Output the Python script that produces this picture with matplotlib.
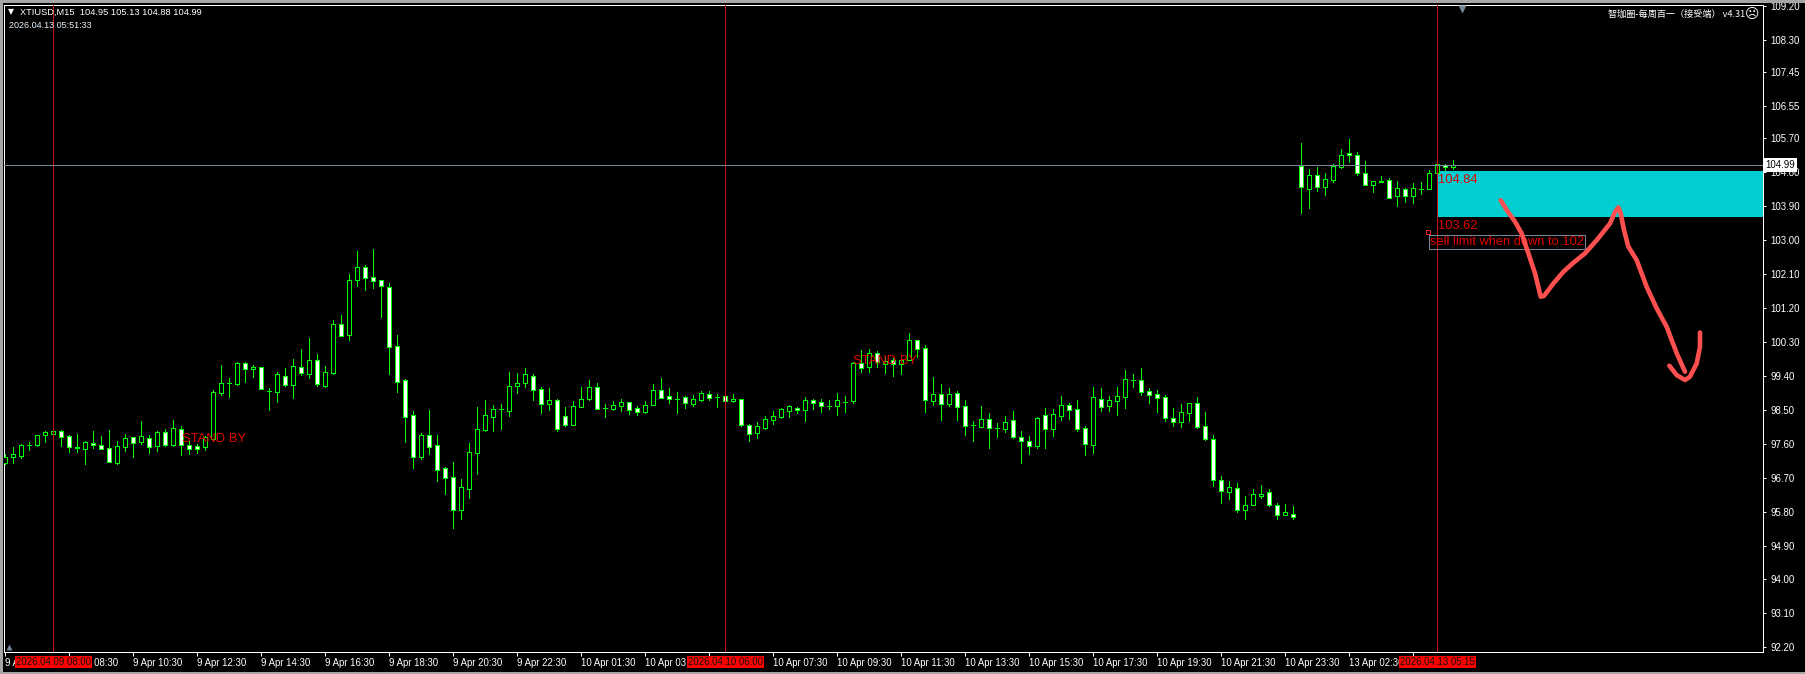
import matplotlib
matplotlib.use("Agg")
import matplotlib.pyplot as plt
from matplotlib.patches import Rectangle

W, H = 1806, 674

opens = [97.10,97.26,97.28,97.57,97.57,97.82,97.87,97.93,97.81,97.52,
 97.47,97.61,97.58,97.50,97.10,97.52,97.77,97.65,97.74,97.55,
 97.90,97.57,97.98,97.56,97.53,97.52,97.72,98.94,99.20,99.19,
 99.73,99.57,99.63,98.99,98.96,99.41,99.15,99.63,99.46,99.81,
 99.14,99.48,100.77,100.49,101.95,102.28,102.01,101.93,101.77,100.18,
 99.28,98.35,97.26,97.82,97.56,96.95,96.71,95.85,96.41,97.36,
 97.97,98.32,98.51,98.48,99.14,99.22,99.41,99.04,98.66,98.75,
 98.33,98.11,98.58,98.80,99.10,98.55,98.53,98.61,98.72,98.54,
 98.45,98.64,99.02,98.86,98.79,98.83,98.66,98.76,98.91,98.84,
 98.86,98.74,98.80,98.09,97.89,98.03,98.24,98.32,98.48,98.56,
 98.50,98.75,98.70,98.61,98.61,98.72,98.73,99.73,99.64,100.00,
 99.71,99.82,99.71,99.81,100.34,100.13,98.74,98.91,98.66,98.94,
 98.59,98.09,98.05,98.25,98.01,98.00,98.22,97.77,97.66,97.55,
 98.35,98.00,98.34,98.62,98.51,98.03,97.57,98.80,98.60,98.74,
 98.85,99.29,99.28,98.99,98.91,98.83,98.27,98.18,98.42,98.67,
 98.06,97.72,96.63,96.33,96.42,95.85,95.97,96.22,96.31,95.97,
 95.72,95.75,104.96,104.36,104.74,104.42,104.60,104.95,105.30,105.27,
 104.77,104.45,104.57,104.59,104.16,104.35,104.16,104.36,104.35,104.77,
 104.98,104.95]
highs = [97.33,97.51,97.59,97.64,97.84,97.94,97.95,97.96,97.82,97.86,
 97.67,97.94,97.80,97.96,97.67,97.86,97.78,98.20,97.83,97.94,
 97.99,98.23,98.07,97.67,97.59,97.80,99.02,99.69,99.34,99.78,
 99.78,99.70,99.63,99.07,99.49,99.61,99.85,100.11,100.40,99.98,
 99.66,100.88,101.01,102.10,102.71,102.34,102.76,101.94,101.86,100.48,
 99.32,98.47,97.88,98.49,97.83,96.98,97.12,96.67,97.62,98.57,
 98.76,98.63,98.65,99.50,99.48,99.61,99.45,99.10,99.08,98.79,
 98.57,98.73,99.10,99.29,99.21,98.65,98.73,98.79,98.72,98.60,
 98.73,99.18,99.34,99.08,98.97,98.87,98.89,99.00,99.00,98.92,
 98.87,98.92,98.80,98.12,98.18,98.33,98.47,98.55,98.63,98.57,
 98.84,98.78,98.78,98.76,98.94,98.86,99.77,100.08,100.11,100.06,
 99.94,99.87,99.95,100.54,100.35,100.22,99.37,99.18,99.08,99.00,
 98.76,98.20,98.60,98.41,98.15,98.33,98.47,97.94,97.80,98.31,
 98.55,98.52,98.86,98.67,98.76,98.07,99.10,99.08,98.86,99.10,
 99.55,99.45,99.61,99.07,99.02,98.89,98.55,98.65,98.67,98.84,
 98.44,97.83,96.74,96.61,96.56,96.21,96.40,96.51,96.40,96.03,
 96.00,95.95,105.58,104.88,104.93,104.78,105.01,105.42,105.68,105.33,
 105.10,104.56,104.70,104.64,104.57,104.38,104.51,104.53,104.86,105.02,
 105.01,105.13]
lows = [97.06,97.09,97.22,97.43,97.54,97.64,97.87,97.54,97.38,97.38,
 97.06,97.49,97.47,97.12,97.06,97.41,97.25,97.59,97.35,97.41,
 97.54,97.54,97.30,97.33,97.35,97.43,97.67,98.90,98.85,99.17,
 99.25,99.38,99.04,98.49,98.71,99.14,98.82,99.42,99.34,99.13,
 99.10,99.45,100.47,100.35,101.78,101.68,101.73,100.96,99.45,98.97,
 97.65,96.96,97.20,97.33,96.61,96.27,95.37,95.60,96.16,96.80,
 97.94,97.94,97.99,98.34,98.95,99.10,98.76,98.42,98.49,97.94,
 98.07,98.11,98.58,98.76,98.53,98.31,98.49,98.47,98.39,98.36,
 98.42,98.64,98.82,98.68,98.42,98.55,98.60,98.73,98.76,98.57,
 98.73,98.71,98.07,97.67,97.75,97.99,98.12,98.28,98.31,98.41,
 98.20,98.52,98.44,98.52,98.36,98.44,98.68,99.50,99.50,99.64,
 99.47,99.40,99.45,99.81,99.89,98.44,98.63,98.23,98.60,98.23,
 97.83,97.67,98.05,97.49,97.78,97.91,97.75,97.09,97.33,97.49,
 97.49,97.80,98.23,98.25,97.94,97.30,97.35,98.47,98.47,98.36,
 98.55,99.10,98.89,98.68,98.44,98.20,98.07,98.04,98.20,98.02,
 97.70,96.48,96.03,96.13,95.79,95.60,95.97,96.16,95.95,95.60,
 95.72,95.60,103.72,103.85,104.30,104.20,104.54,104.91,105.07,104.73,
 104.45,104.28,104.54,104.11,103.90,104.01,103.98,104.22,104.35,104.74,
 104.86,104.88]
closes = [97.26,97.32,97.56,97.57,97.82,97.90,97.93,97.79,97.52,97.48,
 97.64,97.58,97.47,97.12,97.53,97.74,97.63,97.80,97.52,97.90,
 97.57,98.01,97.57,97.47,97.47,97.77,98.96,99.20,99.20,99.73,
 99.57,99.64,99.04,98.99,99.44,99.17,99.65,99.47,99.81,99.19,
 99.51,100.77,100.47,101.93,102.30,102.00,101.92,101.79,100.17,99.25,
 98.32,97.26,97.82,97.52,96.91,96.70,95.85,96.44,97.37,97.98,
 98.35,98.51,98.51,99.12,99.20,99.44,99.03,98.66,98.75,98.00,
 98.11,98.59,98.80,99.10,98.53,98.55,98.62,98.72,98.50,98.45,
 98.62,99.02,98.82,98.80,98.79,98.69,98.78,98.94,98.82,98.84,
 98.74,98.80,98.11,97.87,98.06,98.25,98.33,98.51,98.59,98.50,
 98.75,98.69,98.61,98.61,98.75,98.72,99.74,99.62,100.00,99.76,
 99.80,99.71,99.82,100.34,100.12,98.75,98.91,98.66,98.91,98.58,
 98.08,98.09,98.25,98.03,98.01,98.19,97.79,97.68,97.55,98.27,
 98.00,98.38,98.64,98.50,98.00,97.60,98.83,98.58,98.75,98.86,
 99.31,99.29,98.98,98.90,98.82,98.29,98.18,98.43,98.67,98.05,
 97.73,96.65,96.35,96.44,95.85,95.97,96.26,96.28,95.97,95.72,
 95.78,95.67,104.40,104.74,104.40,104.61,104.96,105.27,105.27,104.77,
 104.45,104.56,104.54,104.13,104.37,104.16,104.37,104.35,104.77,105.01,
 104.95,104.99]

price_ticks = [109.20,108.30,107.45,106.55,105.70,104.80,103.90,103.00,102.10,101.20,
               100.30,99.40,98.50,97.60,96.70,95.80,94.90,94.00,93.10,92.20]
time_labels = ["9 Apr 06:30","9 Apr 08:30","9 Apr 10:30","9 Apr 12:30","9 Apr 14:30","9 Apr 16:30",
               "9 Apr 18:30","9 Apr 20:30","9 Apr 22:30","10 Apr 01:30","10 Apr 03:30","10 Apr 05:30",
               "10 Apr 07:30","10 Apr 09:30","10 Apr 11:30","10 Apr 13:30","10 Apr 15:30","10 Apr 17:30",
               "10 Apr 19:30","10 Apr 21:30","10 Apr 23:30","13 Apr 02:30","13 Apr 04:30"]
event_bars = [6, 90, 179]
event_labels = ["2026.04.09 08:00", "2026.04.10 06:00", "2026.04.13 05:15"]
zone_top, zone_bottom = 104.84, 103.62
bid = 104.99

stroke1_x = [186.92,187.67,188.71,189.54,190.38,191.21,191.92,192.33,193.50,194.75,196.00,197.46,
             198.92,200.58,201.21,201.62,201.92,202.33,202.87,203.92,205.17,206.42,207.67,208.92,209.96]
stroke1_y = [104.06,103.80,103.49,103.18,102.65,102.12,101.50,101.52,101.85,102.16,102.40,102.65,
             103.00,103.44,103.75,103.87,103.71,103.27,102.83,102.47,101.76,101.19,100.70,100.00,99.51]
stroke2_x = [208.00,208.92,209.96,210.58,211.42,211.83,211.83]
stroke2_y = [99.67,99.42,99.29,99.38,99.73,100.17,100.55]

FONT = "Liberation Sans"
GREEN = "#00ff00"
RED = "#e00000"
SLATE = "#778899"
LINE_1PX = 0.72
plt.rcParams["font.family"] = [FONT, "Noto Sans CJK SC", "DejaVu Sans"]

fig = plt.figure(figsize=(W / 100, H / 100), dpi=100, facecolor="black")

# window chrome, drawn first so the scale labels stay on top of it
for rect in ([0, H - 3, W, 3], [0, 0, 3, H], [0, 0, W, 2]):
    fig.patches.append(Rectangle((rect[0] / W, rect[1] / H), rect[2] / W, rect[3] / H,
                                 transform=fig.transFigure, fc="#a6a6a6", ec="none", figure=fig))

ax = fig.add_axes([4.5 / W, 1 - 651.5 / H, 1759 / W, 647 / H], facecolor="black")
ax.set_xlim(-0.104, 219.77)
ax.set_ylim(92.09, 109.25)

for s in ax.spines.values():
    s.set_color("white")
    s.set_linewidth(LINE_1PX)

# zone
ax.add_patch(Rectangle((event_bars[2], zone_bottom), 219.77 - event_bars[2], zone_top - zone_bottom,
                       fc="#00ced1", ec="none", zorder=1))

# candles
idx = list(range(len(opens)))
ax.vlines(idx, lows, highs, colors=GREEN, linewidth=LINE_1PX, antialiased=False, zorder=3)
bottoms = [min(o, c) for o, c in zip(opens, closes)]
heights = [abs(o - c) for o, c in zip(opens, closes)]
faces = ["black" if c > o else "white" for o, c in zip(opens, closes)]
ax.bar(idx, heights, bottom=bottoms, width=0.5, color=faces, edgecolor=GREEN, linewidth=LINE_1PX,
       antialiased=False, zorder=4)

# event lines / bid line
ax.vlines(event_bars, 92.09, 109.25, colors="#c80f0f", linewidth=LINE_1PX, antialiased=False, zorder=5)
ax.axhline(bid, color=SLATE, linewidth=LINE_1PX, antialiased=False, zorder=5)

# hand-drawn arrow
for xs, ys in ((stroke1_x, stroke1_y), (stroke2_x, stroke2_y)):
    ax.plot(xs, ys, color="#ff4f4f", linewidth=3.3, solid_capstyle="round",
            solid_joinstyle="round", zorder=7)

# ticks
ax.yaxis.tick_right()
ax.set_yticks(price_ticks)
ax.set_yticklabels([f"{p:.2f}" for p in price_ticks])
ax.tick_params(axis="y", length=2.4, width=LINE_1PX, color="white", labelcolor="white",
               labelsize=6.9, pad=2.5)
ax.set_xticks(list(range(0, 8 * len(time_labels), 8)))
ax.set_xticklabels(time_labels, ha="left")
ax.tick_params(axis="x", length=2.6, width=LINE_1PX, color="white", labelcolor="white",
               labelsize=6.9, pad=1.8)

xt = ax.get_xaxis_transform()
for b, lab in zip(event_bars, event_labels):
    ax.text(b, -0.0165, lab, transform=xt, ha="center", va="center", fontsize=6.9, color="#111111",
            clip_on=False, zorder=20,
            bbox=dict(boxstyle="square,pad=0.12", fc="#ff0000", ec="none"))

# bid tag
ax.text(220.0, bid, f"{bid:.2f}", ha="left", va="center", fontsize=6.9, color="black", clip_on=False,
        zorder=20, bbox=dict(boxstyle="square,pad=0.2", fc="white", ec="none"))

# on-chart text
ax.text(26.1, 97.72, "STAND BY", color=RED, fontsize=9.4, ha="center", va="center", zorder=8)
ax.text(110.0, 99.79, "STAND BY", color=RED, fontsize=9.4, ha="center", va="center", zorder=8)
ax.text(179.1, 104.60, f"{zone_top:.2f}", color=RED, fontsize=9.3, ha="left", va="center", zorder=8)
ax.text(179.1, 103.37, f"{zone_bottom:.2f}", color=RED, fontsize=9.3, ha="left", va="center", zorder=8)
ax.text(178.1, 102.96, "sell limit when down to 102", color=RED, fontsize=9.3, ha="left", va="center",
        zorder=6, bbox=dict(boxstyle="square,pad=0.08", fc="none", ec=SLATE, lw=LINE_1PX))
ax.plot([177.8], [103.22], marker="s", ms=2.2, mfc="black", mec="#ff2020", mew=0.7, zorder=8)

# markers at the frame
ax.plot([182.1], [109.12], marker="v", ms=6, mfc=SLATE, mec="none", zorder=8, clip_on=False)
ax.plot([0.4], [92.2], marker="^", ms=4.5, mfc=SLATE, mec="none", zorder=8, clip_on=False)

# header
def px(x, y):
    return x / W, 1 - y / H

fig.text(*px(7.5, 12), "\u25bc", color="white", fontsize=5.6, ha="left", va="center",
         family="DejaVu Sans")
fig.text(*px(20, 12), "XTIUSD,M15  104.95 105.13 104.88 104.99", color="white", fontsize=6.7,
         ha="left", va="center")
fig.text(*px(9, 25.5), "2026.04.13 05:51:33", color="#e8f4ff", fontsize=6.5, ha="left", va="center")
fig.text(*px(1745, 14), "智珈圈-每周百一（接受端） v4.31", color="white", fontsize=6.6,
         ha="right", va="center", family=["Noto Sans CJK SC", "DejaVu Sans"])
fig.text(*px(1752, 14), "\u2639", color="white", fontsize=10, ha="center", va="center",
         family="DejaVu Sans")

fig.savefig("out.png", dpi=100, facecolor="black")
